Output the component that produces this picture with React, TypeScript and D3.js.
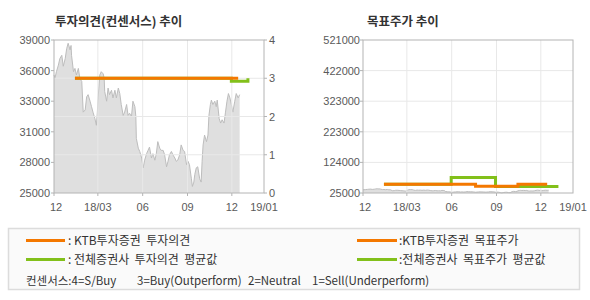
import React from "react";
import * as d3 from "d3";

// ---------- data ----------
const priceData: [string, number][] = [
  ["2017-12-01", 35800], ["2017-12-03", 35500], ["2017-12-06", 36100], ["2017-12-10", 36700],
  ["2017-12-13", 37300], ["2017-12-17", 37600], ["2017-12-20", 36600], ["2017-12-24", 37300],
  ["2017-12-27", 38200], ["2017-12-30", 38700], ["2018-01-03", 38100], ["2018-01-05", 38500],
  ["2018-01-06", 37600], ["2018-01-10", 36100], ["2018-01-13", 36400], ["2018-01-16", 35800],
  ["2018-01-20", 36400], ["2018-01-23", 35500], ["2018-01-27", 35200], ["2018-01-30", 32400],
  ["2018-02-03", 32600], ["2018-02-06", 33800], ["2018-02-09", 34000], ["2018-02-13", 33400],
  ["2018-02-16", 32900], ["2018-02-19", 32400], ["2018-02-23", 31800], ["2018-02-26", 31200],
  ["2018-02-28", 32400], ["2018-03-01", 33400], ["2018-03-05", 35800], ["2018-03-08", 36100],
  ["2018-03-12", 35900], ["2018-03-14", 35500], ["2018-03-15", 34300], ["2018-03-19", 33400],
  ["2018-03-22", 34600], ["2018-03-25", 34000], ["2018-03-29", 34400], ["2018-04-01", 33700],
  ["2018-04-05", 34400], ["2018-04-08", 33700], ["2018-04-12", 34600], ["2018-04-15", 34100],
  ["2018-04-18", 33100], ["2018-04-22", 32100], ["2018-04-25", 32400], ["2018-04-29", 33100],
  ["2018-05-02", 32100], ["2018-05-05", 32300], ["2018-05-09", 32000], ["2018-05-12", 33400],
  ["2018-05-16", 32900], ["2018-05-18", 32000], ["2018-05-19", 30000], ["2018-05-23", 29100],
  ["2018-05-26", 28800], ["2018-05-30", 28200], ["2018-06-02", 27300], ["2018-06-05", 28000],
  ["2018-06-09", 28600], ["2018-06-12", 28900], ["2018-06-15", 29200], ["2018-06-19", 28200],
  ["2018-06-22", 28600], ["2018-06-26", 28000], ["2018-06-29", 28600], ["2018-07-02", 29700],
  ["2018-07-06", 29100], ["2018-07-09", 28900], ["2018-07-13", 28900], ["2018-07-16", 28500],
  ["2018-07-20", 27400], ["2018-07-23", 27900], ["2018-07-26", 28500], ["2018-07-30", 28800],
  ["2018-08-02", 28500], ["2018-08-06", 28200], ["2018-08-09", 27900], ["2018-08-12", 28000],
  ["2018-08-16", 28500], ["2018-08-19", 29400], ["2018-08-23", 28900], ["2018-08-26", 28800],
  ["2018-08-30", 27600], ["2018-09-02", 27900], ["2018-09-05", 27600], ["2018-09-09", 26300],
  ["2018-09-11", 25600], ["2018-09-14", 26000], ["2018-09-16", 26700], ["2018-09-19", 27300],
  ["2018-09-22", 27400], ["2018-09-26", 26300], ["2018-09-29", 26000], ["2018-10-01", 27900],
  ["2018-10-03", 29400], ["2018-10-06", 30300], ["2018-10-10", 29700], ["2018-10-13", 30300],
  ["2018-10-15", 32100], ["2018-10-18", 33100], ["2018-10-20", 33500], ["2018-10-23", 33100],
  ["2018-10-27", 33400], ["2018-10-30", 32900], ["2018-11-01", 33500], ["2018-11-05", 31800],
  ["2018-11-08", 31400], ["2018-11-11", 31700], ["2018-11-15", 31400], ["2018-11-18", 32400],
  ["2018-11-21", 33400], ["2018-11-24", 34100], ["2018-11-27", 33700], ["2018-11-30", 33100],
  ["2018-12-03", 32400], ["2018-12-07", 33400], ["2018-12-10", 34100], ["2018-12-14", 33700],
  ["2018-12-17", 34000],
];

const opinionKTB: [string, number][] = [["2018-01-13", 3], ["2018-12-14", 3]];
const opinionAvg: [string, number][] = [["2018-01-13", 3], ["2018-11-30", 2.92], ["2019-01-03", 3]];
const targetKTB: [string, number][] = [
  ["2018-01-13", 53000], ["2018-07-20", 47000], ["2018-10-15", 53000], ["2018-12-14", 53000],
];
const targetAvg: [string, number][] = [
  ["2018-01-13", 53000], ["2018-05-31", 75000], ["2018-08-30", 46000], ["2019-01-03", 51000],
];

const xDomain = ["2017-12-01", "2019-02-05"];
const xTickDates = ["2017-12-01", "2018-03-01", "2018-06-01", "2018-09-01", "2018-12-01"];
const xTickLabels = ["12", "18/03", "06", "09", "12"];
const xEndLabel = "19/01";
const priceDomain = [25000, 39000];
const opinionTicks = [0, 1, 2, 3, 4];
const targetDomain = [25000, 521000];
const yTickCount = 5;

const titles = ["투자의견(컨센서스) 추이", "목표주가 추이"];
const legendLeft = [": KTB투자증권  투자의견", ": 전체증권사  투자의견  평균값"];
const legendRight = [":KTB투자증권  목표주가", ":전체증권사  목표주가  평균값"];
const consensusNote = ["컨센서스:4=S/Buy", "3=Buy(Outperform)", "2=Neutral", "1=Sell(Underperform)"];

// ---------- styles ----------
const ORANGE = "#f47800";
const GREEN = "#82c01a";
const FRAME = "#b4b4b4";
const GRID = "#e8e8e8";
const LABEL = "#5a5a5a";
const NUM_FONT = "'Liberation Sans', Arial, sans-serif";
const KR_FONT = "'Noto Sans CJK KR', 'Noto Sans', sans-serif";

const parse = d3.timeParse("%Y-%m-%d");

type Box = { x0: number; x1: number; y0: number; y1: number };

function evenTicks(domain: number[]) {
  const step = (domain[1] - domain[0]) / yTickCount;
  return d3.range(yTickCount + 1).map((i) => domain[0] + step * i);
}
const roundK = (v: number) => String(Math.round(v / 1000) * 1000);

function XAxis({ x, box, grid }: { x: d3.ScaleTime<number, number>; box: Box; grid: boolean }) {
  const dates = xTickDates.map((d) => parse(d) as Date);
  return (
    <g>
      {grid &&
        dates.slice(1).map((d, i) => (
          <line key={"g" + i} x1={x(d)} x2={x(d)} y1={box.y0} y2={box.y1} stroke={GRID} />
        ))}
      {dates.map((d, i) => (
        <g key={i}>
          <line x1={x(d)} x2={x(d)} y1={box.y1} y2={box.y1 + 3} stroke={FRAME} />
          <text x={x(d) + (i === 0 ? 2 : 0)} y={box.y1 + 18} textAnchor="middle" fontSize={11} fill={LABEL} fontFamily={NUM_FONT}>
            {xTickLabels[i]}
          </text>
        </g>
      ))}
      <text x={x.range()[1]} y={box.y1 + 18} textAnchor="middle" fontSize={11} fill={LABEL} fontFamily={NUM_FONT}>
        {xEndLabel}
      </text>
    </g>
  );
}

function OpinionChart() {
  const box: Box = { x0: 54, x1: 264, y0: 40, y1: 193 };
  const x = d3.scaleTime().domain(xDomain.map((d) => parse(d) as Date)).range([box.x0, box.x1]);
  const yP = d3.scaleLinear().domain(priceDomain).range([box.y1, box.y0]);
  const yO = d3.scaleLinear().domain([0, 4]).range([box.y1, box.y0]);
  const pts = priceData.map(([d, v]) => ({ d: parse(d) as Date, v }));
  const area = d3.area<any>().x((p) => x(p.d)).y0(box.y1).y1((p) => yP(p.v));
  const line = d3.line<any>().x((p) => x(p.d)).y((p) => yP(p.v));
  const step = d3
    .line<[string, number]>()
    .x((p) => x(parse(p[0]) as Date))
    .y((p) => yO(p[1]))
    .curve(d3.curveStepAfter);
  const leftTicks = evenTicks(priceDomain);
  return (
    <g>
      <text x={55} y={26} fontSize={12.5} fontWeight="bold" fill="#333" fontFamily={KR_FONT}>
        {titles[0]}
      </text>
      <path d={area(pts) || ""} fill="#dfdfdf" />
      <path d={line(pts) || ""} fill="none" stroke="#bdbdbd" strokeWidth={1} />
      {opinionTicks.slice(1, -1).map((t) => (
        <line key={t} x1={box.x0} x2={box.x1} y1={yO(t)} y2={yO(t)} stroke={GRID} />
      ))}
      <XAxis x={x} box={box} grid={true} />
      <rect x={box.x0} y={box.y0} width={box.x1 - box.x0} height={box.y1 - box.y0} fill="none" stroke={FRAME} />
      {leftTicks.map((t, i) => (
        <g key={i}>
          <line x1={box.x0 - 3} x2={box.x0} y1={yP(t)} y2={yP(t)} stroke={FRAME} />
          <text x={box.x0 - 4} y={yP(t) + 4} textAnchor="end" fontSize={11} fill={LABEL} fontFamily={NUM_FONT}>
            {roundK(t)}
          </text>
        </g>
      ))}
      {opinionTicks.map((t) => (
        <g key={t}>
          <line x1={box.x1} x2={box.x1 + 3} y1={yO(t)} y2={yO(t)} stroke={FRAME} />
          <text x={box.x1 + 5} y={yO(t) + 4} fontSize={11} fill={LABEL} fontFamily={NUM_FONT}>
            {t}
          </text>
        </g>
      ))}
      <path d={step(opinionAvg) || ""} fill="none" stroke={GREEN} strokeWidth={3} />
      <path d={step(opinionKTB) || ""} fill="none" stroke={ORANGE} strokeWidth={3} />
    </g>
  );
}

function TargetChart() {
  const box: Box = { x0: 363, x1: 573, y0: 40, y1: 193 };
  const x = d3.scaleTime().domain(xDomain.map((d) => parse(d) as Date)).range([box.x0, box.x1]);
  const y = d3.scaleLinear().domain(targetDomain).range([box.y1, box.y0]);
  const pts = priceData.map(([d, v]) => ({ d: parse(d) as Date, v }));
  const area = d3.area<any>().x((p) => x(p.d)).y0(box.y1).y1((p) => y(p.v));
  const line = d3.line<any>().x((p) => x(p.d)).y((p) => y(p.v));
  const step = d3
    .line<[string, number]>()
    .x((p) => x(parse(p[0]) as Date))
    .y((p) => y(p[1]))
    .curve(d3.curveStepAfter);
  const ticks = evenTicks(targetDomain);
  return (
    <g>
      <text x={367} y={26} fontSize={12.5} fontWeight="bold" fill="#333" fontFamily={KR_FONT}>
        {titles[1]}
      </text>
      <path d={area(pts) || ""} fill="#dfdfdf" />
      <path d={line(pts) || ""} fill="none" stroke="#bdbdbd" strokeWidth={1} />
      {ticks.slice(1, -1).map((t, i) => (
        <line key={i} x1={box.x0} x2={box.x1} y1={y(t)} y2={y(t)} stroke={GRID} />
      ))}
      <XAxis x={x} box={box} grid={true} />
      <rect x={box.x0} y={box.y0} width={box.x1 - box.x0} height={box.y1 - box.y0} fill="none" stroke={FRAME} />
      {ticks.map((t, i) => (
        <g key={i}>
          <line x1={box.x0 - 3} x2={box.x0} y1={y(t)} y2={y(t)} stroke={FRAME} />
          <text x={box.x0 - 3} y={y(t) + 4} textAnchor="end" fontSize={11} fill={LABEL} fontFamily={NUM_FONT}>
            {roundK(t)}
          </text>
        </g>
      ))}
      <path d={step(targetAvg) || ""} fill="none" stroke={GREEN} strokeWidth={3} />
      <path d={step(targetKTB) || ""} fill="none" stroke={ORANGE} strokeWidth={3} />
    </g>
  );
}

function Legend() {
  const rowsY = [240.5, 259.5];
  const colors = [ORANGE, GREEN];
  const noteX = [26, 137, 248, 312];
  return (
    <g fontFamily={KR_FONT} fontSize={12} fill="#333">
      <rect x={8.5} y={228.5} width={571} height={61} fill="#fafafa" stroke="#dcdcdc" strokeWidth={1.5} />
      {rowsY.map((ry, i) => (
        <g key={i}>
          <line x1={26} x2={65} y1={ry} y2={ry} stroke={colors[i]} strokeWidth={3} />
          <text x={68} y={ry + 4.5} style={{ whiteSpace: "pre" }}>{legendLeft[i]}</text>
          <line x1={357} x2={397} y1={ry} y2={ry} stroke={colors[i]} strokeWidth={3} />
          <text x={399} y={ry + 4.5} style={{ whiteSpace: "pre" }}>{legendRight[i]}</text>
        </g>
      ))}
      {consensusNote.map((s, i) => (
        <text key={i} x={noteX[i]} y={285} fontSize={11.5}>
          {s}
        </text>
      ))}
    </g>
  );
}

export default function App() {
  return (
    <svg width={590} height={300} style={{ position: "absolute", left: 0, top: 0, background: "#fff" }}>
      <OpinionChart />
      <TargetChart />
      <Legend />
    </svg>
  );
}
